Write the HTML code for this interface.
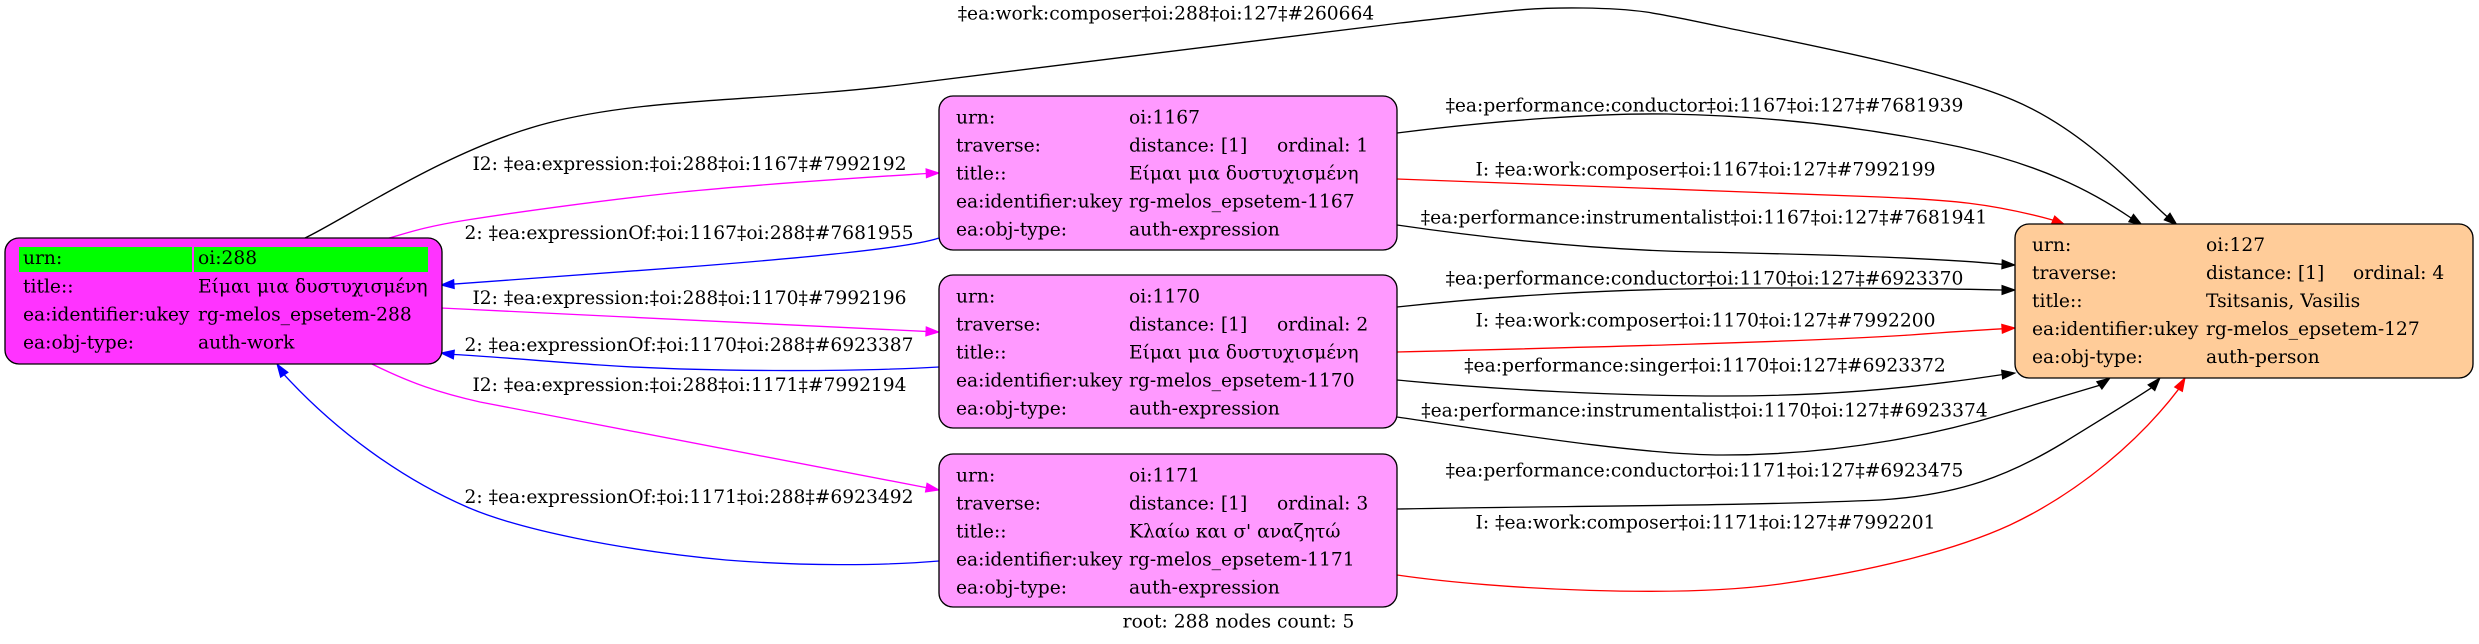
<!DOCTYPE html>
<html>
<head>
<meta charset="utf-8">
<style>
html,body{margin:0;padding:0;background:#fff;}
svg{display:block;}
text{font-family:"DejaVu Serif","Liberation Serif",serif;font-size:18.67px;fill:#000;}
.e{fill:none;stroke-width:1.33;}
</style>
</head>
<body>
<svg width="2479" height="644" viewBox="0 0 2479 644" xmlns="http://www.w3.org/2000/svg">
<rect x="0" y="0" width="2479" height="644" fill="#fff"/>

<!-- ===== Edges ===== -->
<!-- top black edge 288 -> 127 -->
<path class="e" stroke="#000" d="M305,238 C345.5,218.8 448.8,148.5 548,123 C647,97.5 758,101.7 900,85 C1042,68.3 1286,35.8 1400,23 C1513.8,10.2 1529,7.3 1583,8 C1636.8,8.7 1651,11.7 1723,27 C1794.7,42.3 1939,68.8 2013,100 C2087,131 2142,195 2167,216.5"/>
<polygon fill="#000" stroke="#000" points="2177,225 2164.2,219.9 2170,213.1"/>

<!-- magenta 288 -> 1167 -->
<path class="e" stroke="#ff00ff" d="M389,238 C402,235 418,227.7 467,220 C515.8,212.3 605.7,199.8 682,192 C758.3,184.2 884.5,176.2 926,173.5"/>
<polygon fill="#ff00ff" stroke="#ff00ff" points="939,173 926,168.8 926.4,177.8"/>

<!-- blue 1167 -> 288 -->
<path class="e" stroke="#0000ff" d="M939,238 C910,248 800,258 700,266 C600,274 520,280 454,284.1"/>
<polygon fill="#0000ff" stroke="#0000ff" points="441,285 454.3,288.6 453.7,279.6"/>

<!-- magenta 288 -> 1170 -->
<path class="e" stroke="#ff00ff" d="M441,308 C600,316 800,325 926,331.4"/>
<polygon fill="#ff00ff" stroke="#ff00ff" points="939,332 925.8,335.9 926.2,326.9"/>

<!-- blue 1170 -> 288 -->
<path class="e" stroke="#0000ff" d="M939,367 C850,372 700,372 600,365 C540,361 500,357 453.9,354.5"/>
<polygon fill="#0000ff" stroke="#0000ff" points="441,353 454.4,350.1 453.4,359"/>

<!-- magenta 288 -> 1171 -->
<path class="e" stroke="#ff00ff" d="M372,364 C410,383 440,393 480,402 L926.2,487.6"/>
<polygon fill="#ff00ff" stroke="#ff00ff" points="939,490 925.4,492 927,483.1"/>

<!-- blue 1171 -> 288 -->
<path class="e" stroke="#0000ff" d="M939,561 C880,566 800,566 726,560 C620,550 520,530 467,507 C400,478 335,430 284.3,374.8"/>
<polygon fill="#0000ff" stroke="#0000ff" points="277,364 288,372.3 280.6,377.3"/>

<!-- conductor 1167 -> 127 -->
<path class="e" stroke="#000" d="M1397,133 C1500,120 1600,113 1667,114 C1780,116 1880,130 1960,147 C2040,165 2090,190 2131.1,218"/>
<polygon fill="#000" stroke="#000" points="2142,225 2128.7,221.8 2133.5,214.2"/>

<!-- red composer 1167 -> 127 -->
<path class="e" stroke="#ff0000" d="M1397,179 L1880,197 C1950,200 1990,203 2053,220.1"/>
<polygon fill="#ff0000" stroke="#ff0000" points="2065,225 2051.3,224.2 2054.7,216"/>

<!-- instrumentalist 1167 -> 127 -->
<path class="e" stroke="#000" d="M1397,225 C1500,240 1600,250 1700,252 C1850,255 1950,259 2002,264.3"/>
<polygon fill="#000" stroke="#000" points="2015,265 2001.8,268.8 2002.2,259.8"/>

<!-- conductor 1170 -> 127 -->
<path class="e" stroke="#000" d="M1397,307 C1500,296 1600,289 1750,288 C1900,288 1960,289 2002,290"/>
<polygon fill="#000" stroke="#000" points="2015,290 2002,294.5 2002,285.5"/>

<!-- red composer 1170 -> 127 -->
<path class="e" stroke="#ff0000" d="M1397,352 C1600,347 1800,342 1910,335 C1950,332 1980,330 2002,328.8"/>
<polygon fill="#ff0000" stroke="#ff0000" points="2015,328 2002.3,333.3 2001.7,324.3"/>

<!-- singer 1170 -> 127 -->
<path class="e" stroke="#000" d="M1397,380 C1500,390 1620,396 1723,396 C1820,396 1900,390 2002.1,374.6"/>
<polygon fill="#000" stroke="#000" points="2015,373 2002.6,379 2001.6,370.1"/>

<!-- instrumentalist 1170 -> 127 -->
<path class="e" stroke="#000" d="M1397,417 C1500,432 1640,455 1723,455 C1850,455 1950,430 2000,415 C2040,403 2070,394 2099.3,385.4"/>
<polygon fill="#000" stroke="#000" points="2110,378 2101.9,389.1 2096.7,381.7"/>

<!-- conductor 1171 -> 127 -->
<path class="e" stroke="#000" d="M1397,509 C1550,506 1750,506 1880,500 C1960,495 2010,475 2063,443 C2100,420 2130,402 2151.4,387.8"/>
<polygon fill="#000" stroke="#000" points="2160,378 2154.8,390.7 2148,384.8"/>

<!-- red composer 1171 -> 127 -->
<path class="e" stroke="#ff0000" d="M1397,575 C1500,590 1680,598 1780,584 C1880,570 1960,548 2010,525 C2080,492 2140,440 2178.5,389.3"/>
<polygon fill="#ff0000" stroke="#ff0000" points="2185,378 2182.4,391.5 2174.6,387"/>

<!-- ===== Edge labels ===== -->
<text x="1166" y="19.5" text-anchor="middle">‡ea:work:composer‡oi:288‡oi:127‡#260664</text>

<text x="689.5" y="170" text-anchor="middle">I2: ‡ea:expression:‡oi:288‡oi:1167‡#7992192</text>
<text x="689" y="239" text-anchor="middle">2: ‡ea:expressionOf:‡oi:1167‡oi:288‡#7681955</text>
<text x="689.5" y="304" text-anchor="middle">I2: ‡ea:expression:‡oi:288‡oi:1170‡#7992196</text>
<text x="689" y="351" text-anchor="middle">2: ‡ea:expressionOf:‡oi:1170‡oi:288‡#6923387</text>
<text x="689.5" y="391" text-anchor="middle">I2: ‡ea:expression:‡oi:288‡oi:1171‡#7992194</text>
<text x="689" y="503" text-anchor="middle">2: ‡ea:expressionOf:‡oi:1171‡oi:288‡#6923492</text>

<text x="1704.5" y="111.7" text-anchor="middle">‡ea:performance:conductor‡oi:1167‡oi:127‡#7681939</text>
<text x="1705.5" y="175.7" text-anchor="middle">I: ‡ea:work:composer‡oi:1167‡oi:127‡#7992199</text>
<text x="1704" y="223.7" text-anchor="middle">‡ea:performance:instrumentalist‡oi:1167‡oi:127‡#7681941</text>
<text x="1704.5" y="284.7" text-anchor="middle">‡ea:performance:conductor‡oi:1170‡oi:127‡#6923370</text>
<text x="1705.5" y="326.7" text-anchor="middle">I: ‡ea:work:composer‡oi:1170‡oi:127‡#7992200</text>
<text x="1705" y="371.7" text-anchor="middle">‡ea:performance:singer‡oi:1170‡oi:127‡#6923372</text>
<text x="1704.5" y="416.7" text-anchor="middle">‡ea:performance:instrumentalist‡oi:1170‡oi:127‡#6923374</text>
<text x="1704.5" y="476.7" text-anchor="middle">‡ea:performance:conductor‡oi:1171‡oi:127‡#6923475</text>
<text x="1705.5" y="528.7" text-anchor="middle">I: ‡ea:work:composer‡oi:1171‡oi:127‡#7992201</text>

<!-- ===== Nodes ===== -->
<!-- 288 -->
<rect x="5" y="238" width="437" height="126" rx="14" ry="14" fill="#ff33ff" stroke="#000" stroke-width="1.33"/>
<rect x="19" y="247" width="173" height="25" fill="#00ff00"/>
<rect x="194" y="247" width="234" height="25" fill="#00ff00"/>
<text x="23" y="264">urn:</text><text x="198" y="264">oi:288</text>
<text x="23" y="292.5">title::</text><text x="198" y="292.5">Είμαι μια δυστυχισμένη</text>
<text x="23" y="320.5">ea:identifier:ukey</text><text x="198" y="320.5">rg-melos_epsetem-288</text>
<text x="23" y="348.5">ea:obj-type:</text><text x="198" y="348.5">auth-work</text>

<!-- 1167 -->
<rect x="939" y="96" width="458" height="154" rx="14" ry="14" fill="#ff99ff" stroke="#000" stroke-width="1.33"/>
<text x="956" y="123.5">urn:</text><text x="1129" y="123.5">oi:1167</text>
<text x="956" y="151.5">traverse:</text><text x="1129" y="151.5">distance: [1]</text><text x="1277" y="151.5">ordinal: 1</text>
<text x="956" y="179.5">title::</text><text x="1129" y="179.5">Είμαι μια δυστυχισμένη</text>
<text x="956" y="207.5">ea:identifier:ukey</text><text x="1129" y="207.5">rg-melos_epsetem-1167</text>
<text x="956" y="235.5">ea:obj-type:</text><text x="1129" y="235.5">auth-expression</text>

<!-- 1170 -->
<rect x="939" y="275" width="458" height="153" rx="14" ry="14" fill="#ff99ff" stroke="#000" stroke-width="1.33"/>
<text x="956" y="302.5">urn:</text><text x="1129" y="302.5">oi:1170</text>
<text x="956" y="330.5">traverse:</text><text x="1129" y="330.5">distance: [1]</text><text x="1277" y="330.5">ordinal: 2</text>
<text x="956" y="358.5">title::</text><text x="1129" y="358.5">Είμαι μια δυστυχισμένη</text>
<text x="956" y="386.5">ea:identifier:ukey</text><text x="1129" y="386.5">rg-melos_epsetem-1170</text>
<text x="956" y="414.5">ea:obj-type:</text><text x="1129" y="414.5">auth-expression</text>

<!-- 1171 -->
<rect x="939" y="454" width="458" height="153" rx="14" ry="14" fill="#ff99ff" stroke="#000" stroke-width="1.33"/>
<text x="956" y="481.5">urn:</text><text x="1129" y="481.5">oi:1171</text>
<text x="956" y="509.5">traverse:</text><text x="1129" y="509.5">distance: [1]</text><text x="1277" y="509.5">ordinal: 3</text>
<text x="956" y="537.5">title::</text><text x="1129" y="537.5">Κλαίω και σ' αναζητώ</text>
<text x="956" y="565.5">ea:identifier:ukey</text><text x="1129" y="565.5">rg-melos_epsetem-1171</text>
<text x="956" y="593.5">ea:obj-type:</text><text x="1129" y="593.5">auth-expression</text>

<!-- 127 -->
<rect x="2015" y="224" width="458" height="154" rx="14" ry="14" fill="#ffcc99" stroke="#000" stroke-width="1.33"/>
<text x="2032" y="251">urn:</text><text x="2206" y="251">oi:127</text>
<text x="2032" y="279">traverse:</text><text x="2206" y="279">distance: [1]</text><text x="2353" y="279">ordinal: 4</text>
<text x="2032" y="307">title::</text><text x="2206" y="307">Tsitsanis, Vasilis</text>
<text x="2032" y="335">ea:identifier:ukey</text><text x="2206" y="335">rg-melos_epsetem-127</text>
<text x="2032" y="363">ea:obj-type:</text><text x="2206" y="363">auth-person</text>

<!-- graph label -->
<text x="1238.5" y="627.5" text-anchor="middle">root: 288 nodes count: 5</text>
</svg>
</body>
</html>
